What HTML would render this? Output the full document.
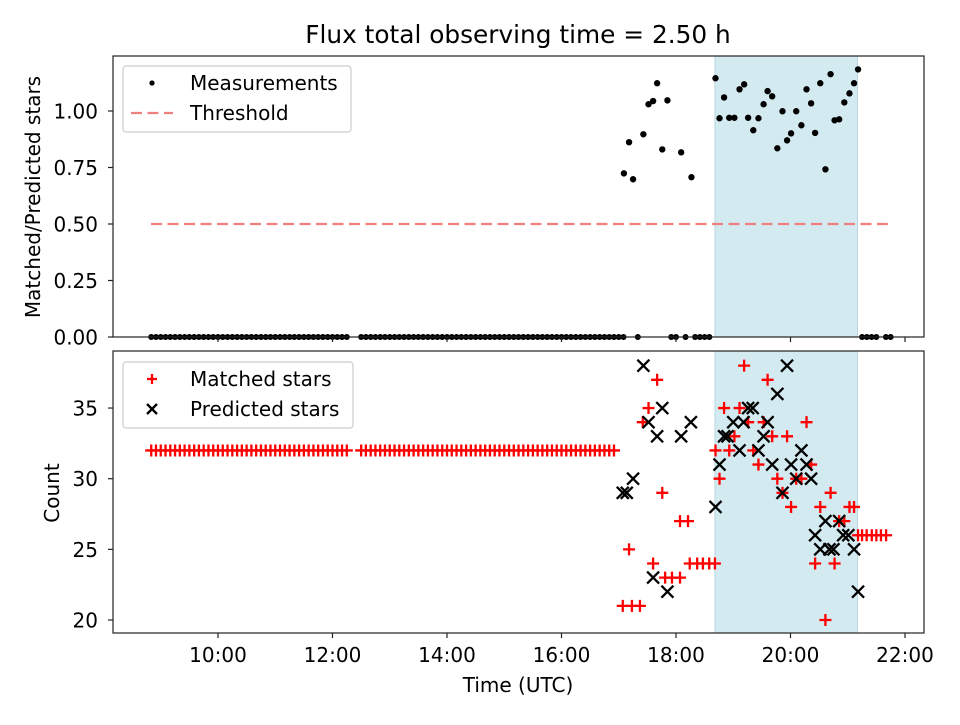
<!DOCTYPE html>
<html><head><meta charset="utf-8"><style>
body{margin:0;background:#fff}
svg{font-family:"DejaVu Sans","Liberation Sans",sans-serif}
</style></head><body>
<svg id="chart" width="960" height="720" viewBox="0 0 960 720" xmlns="http://www.w3.org/2000/svg">
<rect width="960" height="720" fill="#fff"/>
<text x="518" y="43" font-size="24.8" text-anchor="middle">Flux total observing time = 2.50 h</text>
<g id="topPanel"></g>
<g id="botPanel"></g>
<text x="518" y="692" font-size="20" text-anchor="middle">Time (UTC)</text>
<text transform="translate(40,197) rotate(-90)" font-size="20" text-anchor="middle">Matched/Predicted stars</text>
<text transform="translate(59,493) rotate(-90)" font-size="20" text-anchor="middle">Count</text>
</svg>
<script>
// ---- data ----
const baseTimes = ["08:50","08:55","09:00","09:05","09:10","09:15","09:20","09:25","09:30","09:35","09:40","09:45","09:50","09:55","10:00","10:05","10:10","10:15","10:20","10:25","10:30","10:35","10:40","10:45","10:50","10:55","11:00","11:05","11:10","11:15","11:20","11:25","11:30","11:35","11:40","11:45","11:50","11:55","12:00","12:05","12:10","12:15","12:30","12:35","12:40","12:45","12:50","12:55","13:00","13:05","13:10","13:15","13:20","13:25","13:30","13:35","13:40","13:45","13:50","13:55","14:00","14:05","14:10","14:15","14:20","14:25","14:30","14:35","14:40","14:45","14:50","14:55","15:00","15:05","15:10","15:15","15:20","15:25","15:30","15:35","15:40","15:45","15:50","15:55","16:00","16:05","16:10","16:15","16:20","16:25","16:30","16:35","16:40","16:45","16:50","16:55"];
const extraZeroTimes = ["17:00","17:05","17:20","17:55","18:00","18:10","18:20","18:25","18:30","18:35","21:15","21:20","21:25","21:30","21:40","21:45"];
const measTimes = [17.09,17.18,17.25,17.43,17.52,17.60,17.67,17.76,17.85,18.09,18.27,18.69,18.76,18.84,18.93,19.02,19.11,19.19,19.26,19.35,19.44,19.53,19.60,19.68,19.77,19.86,19.94,20.01,20.10,20.19,20.28,20.36,20.43,20.52,20.61,20.70,20.77,20.85,20.94,21.03,21.11,21.18];
const measValues = [0.724,0.862,0.698,0.897,1.030,1.044,1.123,0.830,1.047,0.817,0.707,1.145,0.968,1.060,0.970,0.970,1.096,1.118,0.970,0.915,0.968,1.030,1.088,1.065,0.835,0.999,0.870,0.901,0.999,0.937,1.096,1.034,0.903,1.123,0.742,1.163,0.959,0.963,1.038,1.078,1.123,1.184];
const threshold = 0.5;
const thresholdSpan = [8.83, 21.7];
const shadeSpan = [18.68, 21.17];
const matchedTimes = [17.07,17.23,17.37,17.18,17.52,17.42,17.67,17.60,17.76,17.81,17.93,18.07,18.07,18.21,18.24,18.37,18.47,18.58,18.68,18.69,18.76,18.84,18.93,19.02,19.11,19.19,19.26,19.35,19.44,19.53,19.60,19.68,19.77,19.86,19.94,20.01,20.10,20.19,20.28,20.36,20.43,20.52,20.61,20.70,20.77,20.85,20.94,21.03,21.11,21.18,21.25,21.33,21.42,21.50,21.58,21.67];
const matchedValues = [21,21,21,25,35,34,37,24,29,23,23,23,27,27,24,24,24,24,24,32,30,35,32,33,35,38,34,32,31,34,37,33,30,29,33,28,30,30,34,31,24,28,20,29,24,27,27,28,28,26,26,26,26,26,26,26];
const baseMatched = 32;
const predTimes = [17.43,17.76,17.52,17.67,18.26,18.09,17.25,17.14,17.07,17.60,17.85,18.69,18.76,18.84,18.90,19.00,19.11,19.18,19.26,19.34,19.44,19.53,19.60,19.77,19.94,19.68,19.86,20.01,20.10,20.19,20.28,20.36,20.43,20.52,20.61,20.68,20.75,20.85,20.92,21.01,21.11,21.18];
const predValues = [38,35,34,33,34,33,30,29,29,23,22,28,31,33,33,34,32,34,35,35,32,33,34,36,38,31,29,31,30,32,31,30,26,25,27,25,25,27,26,26,25,22];
const xTickLabels = ["10:00","12:00","14:00","16:00","18:00","20:00","22:00"];
const xTickHours = [10,12,14,16,18,20,22];
const topTicks = [0,0.25,0.5,0.75,1.0];
const botTicks = [20,25,30,35];

// ---- scales ----
const X0=113,X1=924;
const PT={y0:56,y1:337}, PB={y0:351,y1:633};
const xs = h => 218 + (h-10)*57.25;
const ysTop = v => 337 - v*226;
const ysBot = c => 620 - (c-20)*14.13;
const hm = s => {const [a,b]=s.split(':').map(Number);return a+b/60;};
const NS="http://www.w3.org/2000/svg";
function mk(tag,attrs,parent){const e=document.createElementNS(NS,tag);for(const k in attrs)e.setAttribute(k,attrs[k]);parent.appendChild(e);return e;}
const gTop=document.getElementById('topPanel'), gBot=document.getElementById('botPanel');

function shade(g,P){
  const r=mk('rect',{x:xs(shadeSpan[0]),y:P.y0,width:xs(shadeSpan[1])-xs(shadeSpan[0]),height:P.y1-P.y0,fill:'#d4eaf1',stroke:'#b8d8e2','stroke-width':1},g);
  
  
}
shade(gTop,PT); shade(gBot,PB);

function frame(g,P,labels,name){
  const r=mk('rect',{x:X0,y:P.y0,width:X1-X0,height:P.y1-P.y0,fill:'none',stroke:'#222','stroke-width':1.2},g);
  
  
  xTickHours.forEach((h,i)=>{
    mk('line',{x1:xs(h),x2:xs(h),y1:P.y1,y2:P.y1+5,stroke:'#222','stroke-width':1.2},g);
    if(labels){const t=mk('text',{x:xs(h),y:P.y1+29,'font-size':20,'text-anchor':'middle'},g);t.textContent=xTickLabels[i];
      
      }
  });
}

// top panel
const thr=mk('line',{x1:xs(thresholdSpan[0]),x2:xs(thresholdSpan[1]),y1:ysTop(threshold),y2:ysTop(threshold),stroke:'#f08080','stroke-width':2.2,'stroke-dasharray':'11,5.5'},gTop);


const zeros = baseTimes.map(hm).concat(extraZeroTimes.map(hm));
zeros.forEach(h=>{const c=mk('circle',{cx:xs(h),cy:ysTop(0),r:3,fill:'#000'},gTop);
  
  });
measTimes.forEach((h,i)=>{const c=mk('circle',{cx:xs(h),cy:ysTop(measValues[i]),r:3.2,fill:'#000'},gTop);
  
  });
frame(gTop,PT,false,'top-axes');
topTicks.forEach(v=>{mk('line',{x1:X0-5,x2:X0,y1:ysTop(v),y2:ysTop(v),stroke:'#222','stroke-width':1.2},gTop);
  const t=mk('text',{x:X0-15,y:ysTop(v)+7.5,'font-size':20,'text-anchor':'end'},gTop);t.textContent=v.toFixed(2);
  
  });

// bottom panel
function plus(g,x,y){const p=mk('path',{d:`M${x-6},${y}H${x+6}M${x},${y-6}V${y+6}`,stroke:'#f00','stroke-width':2.3,fill:'none'},g);
  
  }
function cross(g,x,y){const p=mk('path',{d:`M${x-6},${y-6}L${x+6},${y+6}M${x-6},${y+6}L${x+6},${y-6}`,stroke:'#000','stroke-width':2.3,fill:'none'},g);
  
  }
baseTimes.map(hm).forEach(h=>plus(gBot,xs(h),ysBot(baseMatched)));
matchedTimes.forEach((h,i)=>plus(gBot,xs(h),ysBot(matchedValues[i])));
predTimes.forEach((h,i)=>cross(gBot,xs(h),ysBot(predValues[i])));
frame(gBot,PB,true,'bottom-axes');
botTicks.forEach(v=>{mk('line',{x1:X0-5,x2:X0,y1:ysBot(v),y2:ysBot(v),stroke:'#222','stroke-width':1.2},gBot);
  const t=mk('text',{x:X0-15,y:ysBot(v)+7.5,'font-size':20,'text-anchor':'end'},gBot);t.textContent=v;
  
  });

// legends
function legend(g,x,y,w,items,name){
  const lg=mk('g',{},g);
  
  
  mk('rect',{x:x,y:y,width:w,height:66,rx:3,fill:'#fff','fill-opacity':0.8,stroke:'#ccc','stroke-width':1.2},lg);
  items.forEach((it,i)=>{const cy=y+17+i*30;it.draw(lg,x+29,cy);
    const t=mk('text',{x:x+67,y:cy+7,'font-size':20},lg);t.textContent=it.label;
    
    });
}
legend(gTop,123,66,228,[
 {label:'Measurements',draw:(g,x,y)=>mk('circle',{cx:x,cy:y,r:2.6,fill:'#000'},g)},
 {label:'Threshold',draw:(g,x,y)=>mk('line',{x1:x-21,x2:x+21,y1:y,y2:y,stroke:'#f08080','stroke-width':2.2,'stroke-dasharray':'11,5.5'},g)}
],'top-legend');
legend(gBot,123,362,230,[
 {label:'Matched stars',draw:(g,x,y)=>mk('path',{d:`M${x-5},${y}H${x+5}M${x},${y-5}V${y+5}`,stroke:'#f00','stroke-width':2.3},g)},
 {label:'Predicted stars',draw:(g,x,y)=>mk('path',{d:`M${x-5},${y-5}L${x+5},${y+5}M${x-5},${y+5}L${x+5},${y-5}`,stroke:'#000','stroke-width':2.3},g)}
],'bottom-legend');
</script>
</body></html>
